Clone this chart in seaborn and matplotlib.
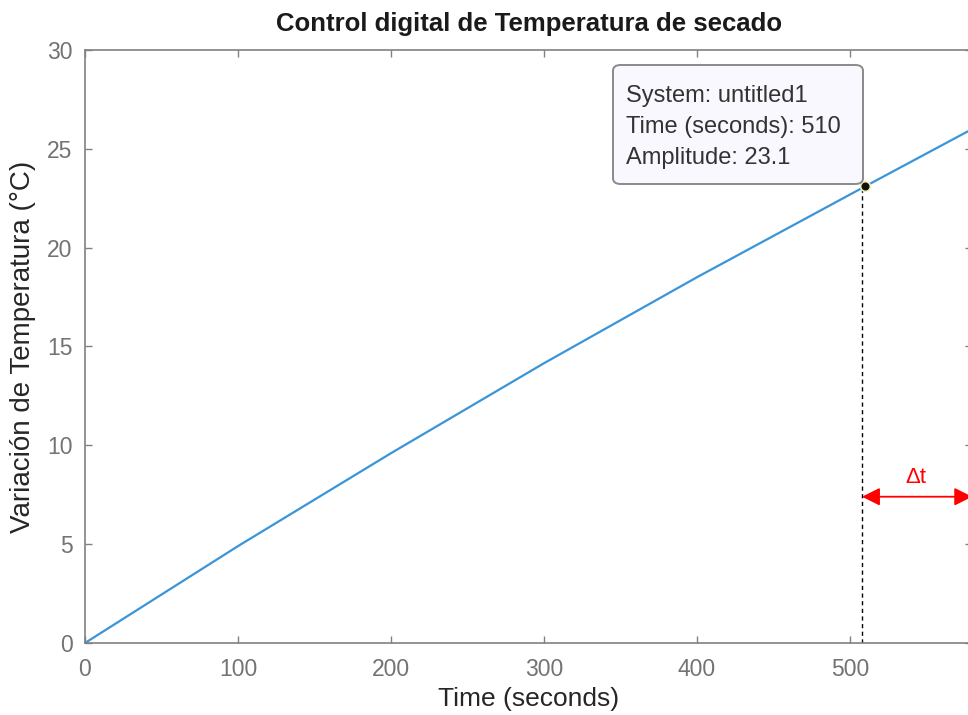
import numpy as np
import pandas as pd
import matplotlib
matplotlib.use("Agg")
import matplotlib.pyplot as plt
import seaborn as sns
from matplotlib.patches import FancyBboxPatch

# Data
time_s = [0, 100, 200, 300, 400, 510, 580]
amplitude = [0.0, 4.9, 9.6, 14.15, 18.5, 23.1, 26.0]
tip_time = 510
tip_amp = 23.1
x_ticks = [0, 100, 200, 300, 400, 500]
y_ticks = [0, 5, 10, 15, 20, 25, 30]
dashed_x = 508
arrow_y = 7.4

sns.set_theme(style="white")
plt.rcParams['font.family'] = ['Liberation Sans', 'DejaVu Sans']

df = pd.DataFrame({"Time": time_s, "Amp": amplitude})

fig = plt.figure(figsize=(9.68, 7.15), dpi=100)
ax = fig.add_axes([0.0878, 0.1007, 0.9165, 0.8294])

sns.lineplot(data=df, x="Time", y="Amp", ax=ax, color="#3a95d8", linewidth=1.6)

ax.set_xlim(0, 580)
ax.set_ylim(0, 30)
ax.set_xticks(x_ticks)
ax.set_yticks(y_ticks)

axcol = "#808080"
for s in ax.spines.values():
    s.set_color(axcol)
    s.set_linewidth(1.2)
    s.set_visible(True)
ax.tick_params(direction="in", length=5, width=1, colors=axcol, labelsize=16.5,
               top=True, right=True, bottom=True, left=True)
ax.tick_params(axis="x", pad=11)
ax.tick_params(axis="y", pad=9)
for lab in ax.get_xticklabels() + ax.get_yticklabels():
    lab.set_color("#737373")

ax.set_xlabel("Time (seconds)", fontsize=19, color="#262626", labelpad=4)
ax.set_ylabel("Variación de Temperatura (°C)", fontsize=20, color="#262626", labelpad=8)
ax.set_title("Control digital de Temperatura de secado", fontsize=18.5,
             fontweight="bold", color="#1a1a1a", pad=14)

# dashed vertical line
ax.plot([dashed_x, dashed_x], [0, tip_amp], linestyle=(0, (3, 2.5)), color="black", linewidth=1)

# data tip marker
ax.plot([tip_time], [tip_amp], marker="o", markersize=7, markerfacecolor="#111111",
        markeredgecolor="#f0f0b0", markeredgewidth=1.2, zorder=6)

# data tip box
box = FancyBboxPatch((0.6, 0.5), 0.25, 0.2, transform=fig.transFigure,
                     boxstyle="round,pad=0,rounding_size=0.008",
                     facecolor="#f8f8fe", edgecolor="#8a8a8a", linewidth=1.4, zorder=5)
fig.patches.append(box)
box.set_bounds(613 / 968, 1 - 184 / 715, 250 / 968, 119 / 715)
lines = ["System: untitled1", f"Time (seconds): {tip_time}", f"Amplitude: {tip_amp}"]
for i, t in enumerate(lines):
    fig.text(626 / 968, 1 - (96 + i * 31) / 715, t, fontsize=17, color="#333333",
             va="center", ha="left", zorder=7)

# Δt arrow
ax.annotate("", xy=(580, arrow_y), xytext=(dashed_x, arrow_y),
            arrowprops=dict(arrowstyle="<|-|>", color="red", lw=1.3,
                            mutation_scale=27, shrinkA=0, shrinkB=0))
ax.text((dashed_x + 578) / 2, arrow_y + 0.45, "Δt", color="red", fontsize=16,
        ha="center", va="bottom")

fig.savefig("out.png", dpi=100)
